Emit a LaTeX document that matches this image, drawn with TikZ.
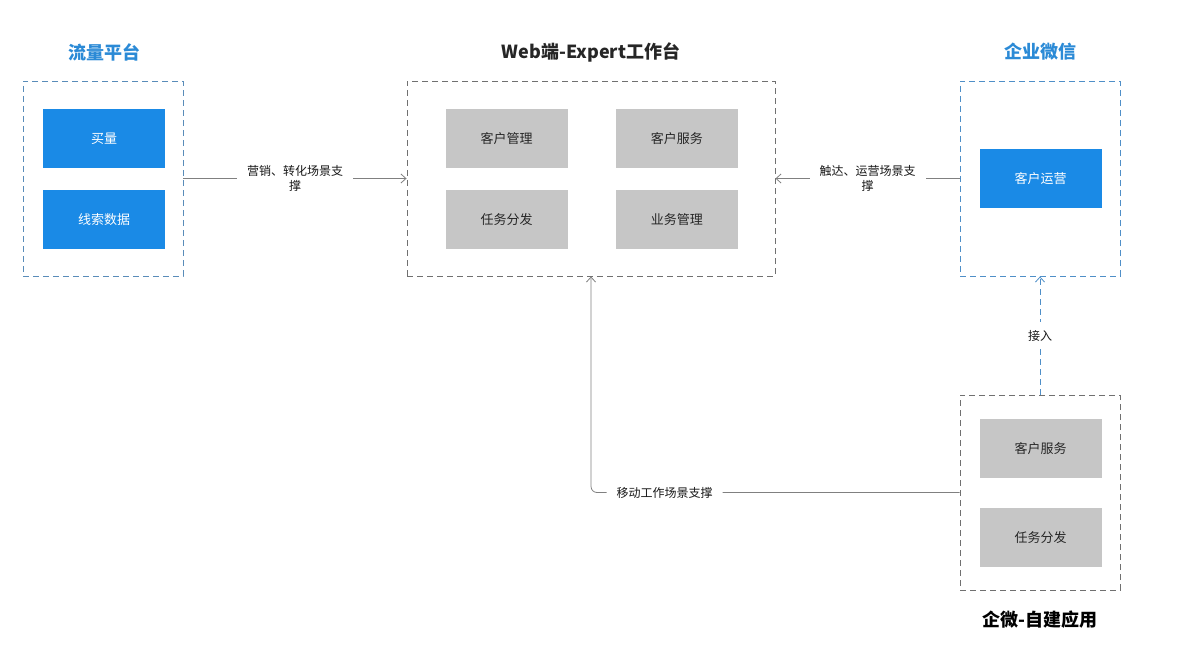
\documentclass[tikz,border=0pt]{standalone}
\usepackage{fontspec}
\setmainfont{Noto Sans CJK SC}
\usetikzlibrary{arrows.meta,positioning}

\definecolor{bluefill}{HTML}{1A8AE6}
\definecolor{bluetitle}{HTML}{2B8AD6}
\definecolor{blueframe}{HTML}{4F8FC8}
\definecolor{grayfill}{HTML}{C6C6C6}
\definecolor{grayframe}{HTML}{707070}
\definecolor{linegray}{HTML}{808080}

\begin{document}
\begin{tikzpicture}[
    x=1pt, y=-1pt,
    node distance=22pt,
    every node/.style={font=\fontsize{12}{15}\selectfont},
    frame/.style={rectangle, draw, dashed, dash pattern=on 6pt off 4pt, line width=0.9pt, minimum width=160pt, minimum height=195pt, inner sep=0pt},
    bluebox/.style={rectangle, fill=bluefill, text=white, font=\fontsize{13}{16}\selectfont, minimum width=122pt, minimum height=59pt, inner sep=0pt},
    graybox/.style={rectangle, fill=grayfill, text=black!85, font=\fontsize{13}{16}\selectfont, minimum width=122pt, minimum height=59pt, inner sep=0pt},
    title/.style={font=\fontsize{18}{21}\selectfont\bfseries},
    lbl/.style={fill=white, inner xsep=10pt, inner ysep=2pt, align=center, text=black!90},
    arrow/.style={-{Straight Barb[length=5pt,width=9pt]}, draw=linegray, line width=0.8pt}
]
\useasboundingbox (0,0) rectangle (1180,658);

% 流量平台
\node[title, text=bluetitle] (flowtitle) at (104,52) {流量平台};
\node[frame, draw=blueframe!80!gray] (flow) at (103,178.5) {};
\node[bluebox] (buy) at (104,138.5) {买量};
\node[bluebox, below=of buy] (leads) {线索数据};

% Web端-Expert工作台
\node[title, text=black!85] (webtitle) at (591,52) {Web端-Expert工作台};
\node[frame, draw=grayframe, minimum width=368pt] (web) at (591,178.5) {};
\node[graybox] (cm) at (506.5,138.5) {客户管理};
\node[graybox, right=48pt of cm] (cs) {客户服务};
\node[graybox, below=of cm] (td) {任务分发};
\node[graybox, below=of cs] (bm) {业务管理};

% 企业微信
\node[title, text=bluetitle] (wecomtitle) at (1040,52) {企业微信};
\node[frame, draw=blueframe] (wecom) at (1040,178.5) {};
\node[bluebox] (ops) at (1040.5,178.5) {客户运营};

% 企微-自建应用
\node[frame, draw=grayframe] (selfapp) at (1040,492.5) {};
\node[graybox] (svc) at (1040.5,448.5) {客户服务};
\node[graybox, below=30pt of svc] (task) {任务分发};
\node[title, text=black] (selftitle) at (1040,620) {企微-自建应用};

% connectors
\draw[arrow] (flow.east) -- (web.west)
    node[lbl, midway] {营销、转化场景支\\撑};
\draw[arrow] (wecom.west) -- (web.east)
    node[lbl, midway] {触达、运营场景支\\撑};
\draw[arrow, draw=blueframe, dashed, dash pattern=on 6pt off 4pt] (selfapp.north) -- (wecom.south)
    node[lbl, midway, inner ysep=8pt] {接入};
\draw[arrow, rounded corners=6pt] (selfapp.west) -| (web.south)
    node[lbl, pos=0.4] {移动工作场景支撑};

\end{tikzpicture}
\end{document}
